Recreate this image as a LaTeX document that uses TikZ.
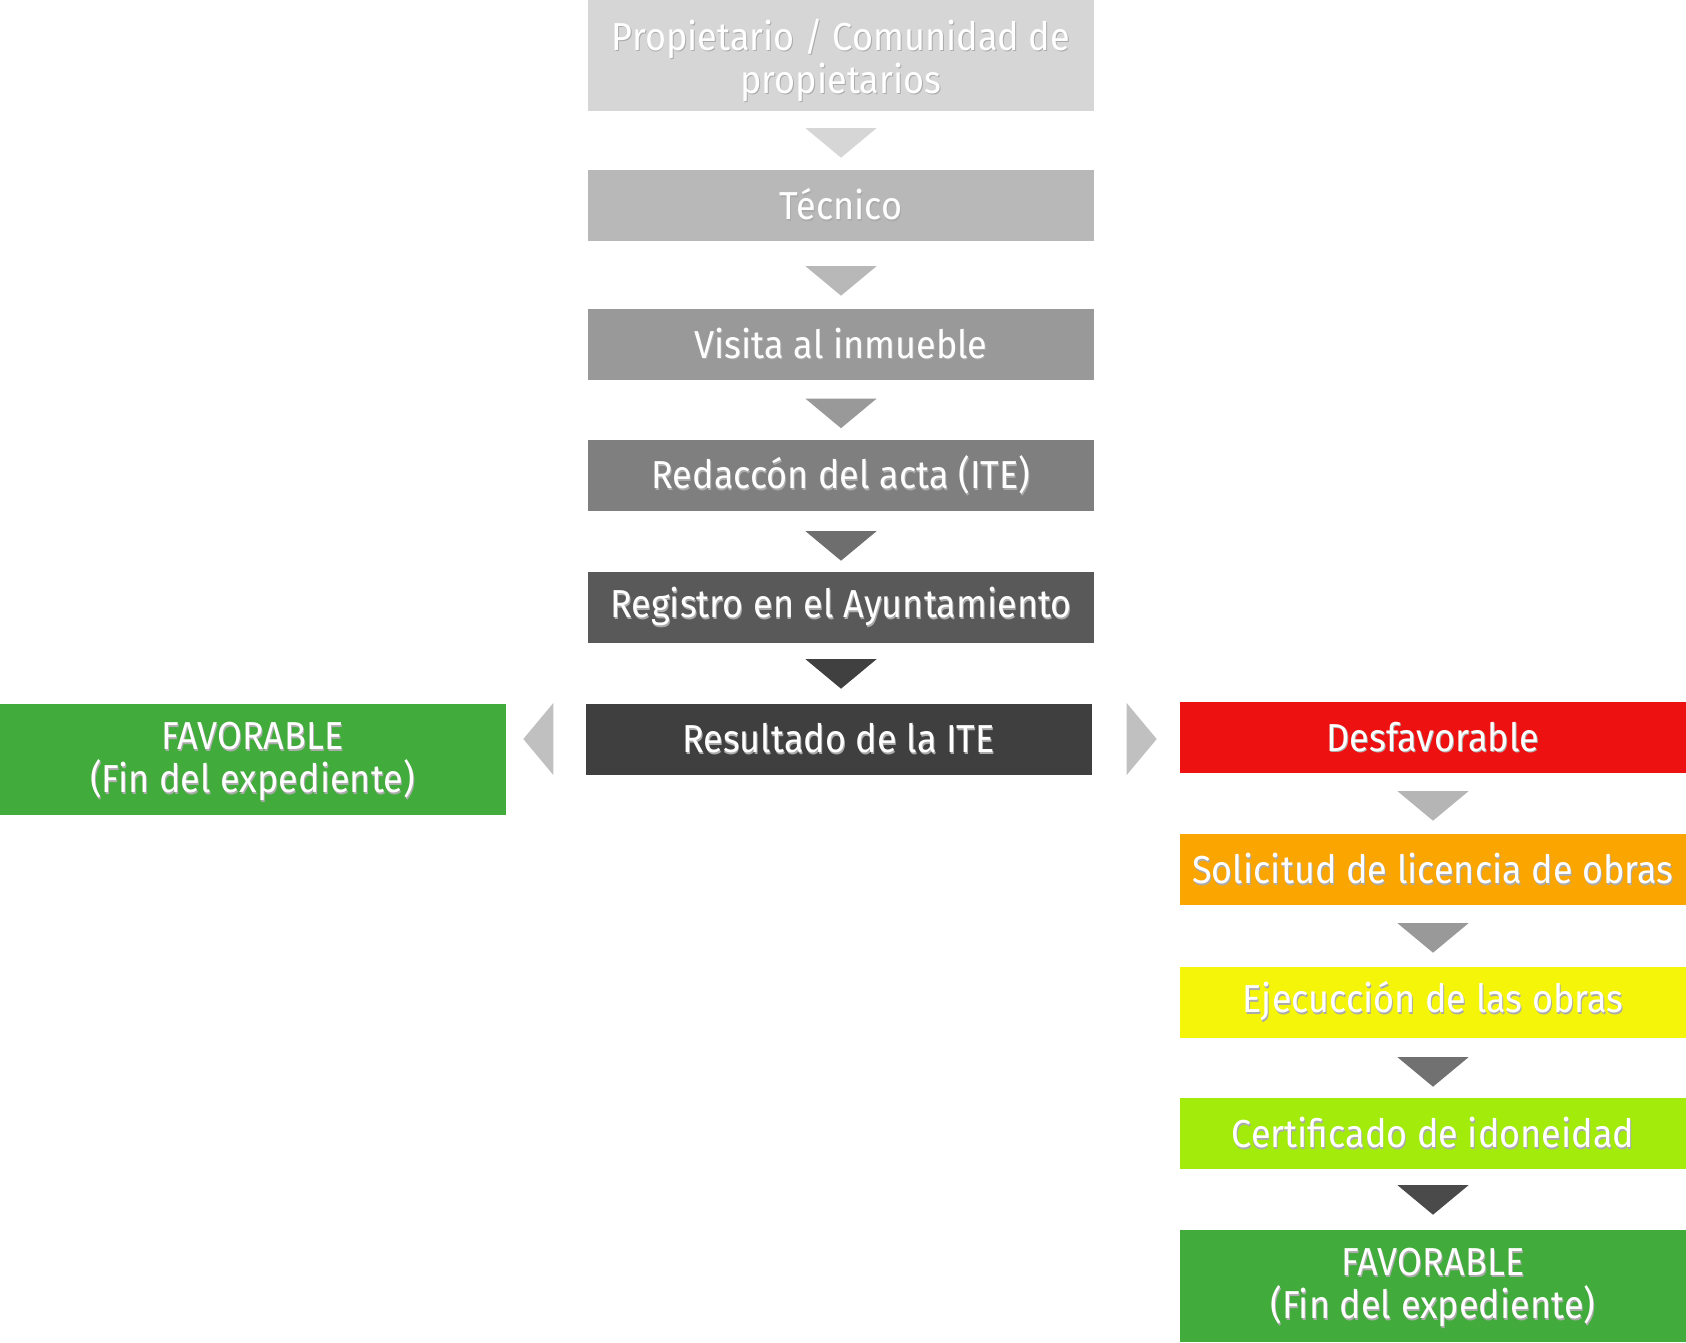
\documentclass[tikz,border=0pt]{standalone}
\usepackage{fontspec}
\setmainfont[FakeStretch=0.925]{Fira Sans}
\usetikzlibrary{positioning}

\definecolor{grisA}{HTML}{D6D6D6}
\definecolor{grisB}{HTML}{B8B8B8}
\definecolor{grisC}{HTML}{999999}
\definecolor{grisD}{HTML}{7F7F7F}
\definecolor{grisE}{HTML}{595959}
\definecolor{grisF}{HTML}{3F3F3F}
\definecolor{triD}{HTML}{6E6E6E}
\definecolor{triE}{HTML}{404040}
\definecolor{lado}{HTML}{C0C0C0}
\definecolor{rojo}{HTML}{EE1111}
\definecolor{naranja}{HTML}{FAA500}
\definecolor{amarillo}{HTML}{F5F50A}
\definecolor{lima}{HTML}{A3EB0A}
\definecolor{verde}{HTML}{41AC3B}
\definecolor{triR}{HTML}{B5B5B5}
\definecolor{triS}{HTML}{999999}
\definecolor{triT}{HTML}{717171}
\definecolor{triU}{HTML}{4A4A4A}

% white text with a soft dark shadow
\newcommand{\shtext}[1]{\leavevmode\rlap{\hspace{1pt}\raisebox{-1.8pt}{\textcolor{black!33}{#1}}}#1}

% down arrow under a box (optional gap)
\newcommand{\downtri}[3][17pt]{\fill[#3] ([xshift=-35.5pt,yshift=-#1]#2.south) -- ([xshift=35.5pt,yshift=-#1]#2.south) -- ([yshift=-#1-29.5pt]#2.south) -- cycle;}

\tikzset{
  box/.style={fill=#1, text=white, minimum width=506pt, minimum height=71pt,
    inner sep=0pt, align=center, font=\fontsize{39}{43}\selectfont},
  twoline/.style={minimum height=111pt},
  lbl/.style={text=white, align=center, inner sep=0pt, font=\fontsize{39}{43}\selectfont},
}

\begin{document}
\begin{tikzpicture}[x=1pt,y=-1pt]
    \useasboundingbox (0,0) rectangle (1686,1342);

    % central column
    \node[box=grisA, twoline, label={[lbl, yshift=-5.5pt]center:{\shtext{Propietario / Comunidad de}\\\shtext{propietarios}}}] (prop) at (841,55.5) {};
    \node[box=grisB] (tecnico) at (841,205.5) {\shtext{Técnico}};
    \node[box=grisC] (visita) at (841,344) {\shtext{Visita al inmueble}};
    \node[box=grisD] (acta) at (841,475.5) {\shtext{Redaccón del acta (ITE)}};
    \node[box=grisE] (registro) at (841,607.5) {\shtext{Registro en el Ayuntamiento}};
    \node[box=grisF] (resultado) at (838.5,739) {\shtext{Resultado de la ITE}};

    \downtri{prop}{grisA}
    \downtri[25pt]{tecnico}{grisB}
    \downtri[19pt]{visita}{grisC}
    \downtri[20pt]{acta}{triD}
    \downtri[16pt]{registro}{triE}

    % left branch
    \node[box=verde, twoline, label={[lbl, yshift=-3.2pt]center:{\shtext{FAVORABLE}\\\shtext{(Fin del expediente)}}}] (favizq) at (252.5,759.5) {};
    \fill[lado] ([xshift=-32pt,yshift=36pt]resultado.west) -- ([xshift=-32pt,yshift=-36pt]resultado.west) -- ([xshift=-62pt]resultado.west) -- cycle;

    % right branch
    \fill[lado] ([xshift=35pt,yshift=36pt]resultado.east) -- ([xshift=35pt,yshift=-36pt]resultado.east) -- ([xshift=65pt]resultado.east) -- cycle;
    \node[box=rojo] (desfav) at (1433,737.5) {\shtext{Desfavorable}};
    \node[box=naranja] (licencia) at (1433,869.5) {\shtext{Solicitud de licencia de obras}};
    \node[box=amarillo] (ejecucion) at (1433,1002) {\shtext{Ejecucción de las obras}};
    \node[box=lima] (certificado) at (1433,1133.5) {\shtext{Certificado de idoneidad}};
    \node[box=verde, twoline, minimum height=112pt, label={[lbl, yshift=-2.2pt]center:{\shtext{FAVORABLE}\\\shtext{(Fin del expediente)}}}] (favder) at (1433,1286) {};

    \downtri[18pt]{desfav}{triR}
    \downtri[18pt]{licencia}{triS}
    \downtri[19.5pt]{ejecucion}{triT}
    \downtri[16pt]{certificado}{triU}
\end{tikzpicture}
\end{document}
